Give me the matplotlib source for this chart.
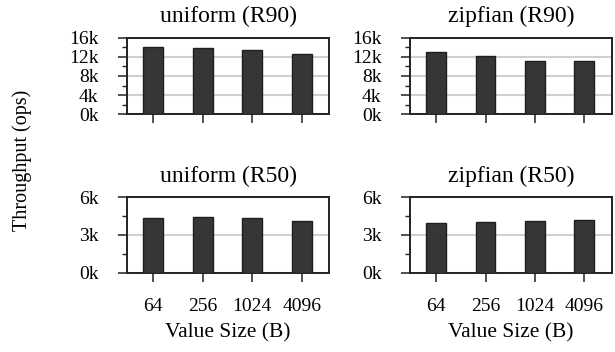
import matplotlib
matplotlib.use('Agg')
import matplotlib.pyplot as plt
from matplotlib.ticker import MultipleLocator, FuncFormatter

plt.rcParams['font.family'] = ['Liberation Serif', 'DejaVu Serif']

sizes = ['64', '256', '1024', '4096']
uniform_r90 = [14000, 13800, 13300, 12500]
zipfian_r90 = [12900, 12200, 11100, 11100]
uniform_r50 = [4370, 4420, 4370, 4100]
zipfian_r50 = [3970, 4030, 4100, 4160]

W, H = 615, 352
fig = plt.figure(figsize=(W / 100, H / 100), dpi=100)


def box(x0, x1, y0, y1):
    return [x0 / W, 1 - y1 / H, (x1 - x0) / W, (y1 - y0) / H]


panels = [
    (box(127, 329, 37.5, 114.5), uniform_r90, 'uniform (R90)', 16000, 4000, 2000, False),
    (box(410, 611.5, 37.5, 114.5), zipfian_r90, 'zipfian (R90)', 16000, 4000, 2000, False),
    (box(127, 329, 197, 272.5), uniform_r50, 'uniform (R50)', 6000, 3000, 1500, True),
    (box(410, 611.5, 197, 272.5), zipfian_r50, 'zipfian (R50)', 6000, 3000, 1500, True),
]

kfmt = FuncFormatter(lambda v, p: '%dk' % round(v / 1000))

for rect, vals, title, ymax, major, minor, bottom in panels:
    ax = fig.add_axes(rect)
    xs = range(len(vals))
    ax.bar(xs, vals, width=0.4, color='#363636', edgecolor='#1e1e1e',
           linewidth=1, zorder=3)
    ax.set_xlim(-0.53, 3.55)
    ax.set_ylim(0, ymax)
    ax.yaxis.set_major_locator(MultipleLocator(major))
    ax.yaxis.set_minor_locator(MultipleLocator(minor))
    ax.yaxis.set_major_formatter(kfmt)
    ax.grid(axis='y', which='major', color='#d0d0d0', linewidth=1.5, zorder=0)
    ax.set_axisbelow(True)
    for s in ax.spines.values():
        s.set_linewidth(1.4)
        s.set_color('#222222')
    ax.tick_params(axis='y', which='major', length=6.5, width=1.1,
                   labelsize=14, pad=14, color='#222222')
    ax.tick_params(axis='y', which='minor', length=3.6, width=1.0,
                   color='#222222')
    ax.tick_params(axis='x', length=6.5, width=1.1, labelsize=14, pad=12,
                   color='#222222')
    ax.set_xticks(list(xs))
    if bottom:
        ax.set_xticklabels(sizes)
        ax.set_xlabel('Value Size (B)', fontsize=15.5, labelpad=6)
    else:
        ax.set_xticklabels([])
    ax.set_title(title, fontsize=17, pad=11)

fig.text(22 / W, 1 - 160 / H, 'Throughput (ops)', rotation=90,
         ha='center', va='center', fontsize=14.5)

fig.savefig('out.png', dpi=100)
